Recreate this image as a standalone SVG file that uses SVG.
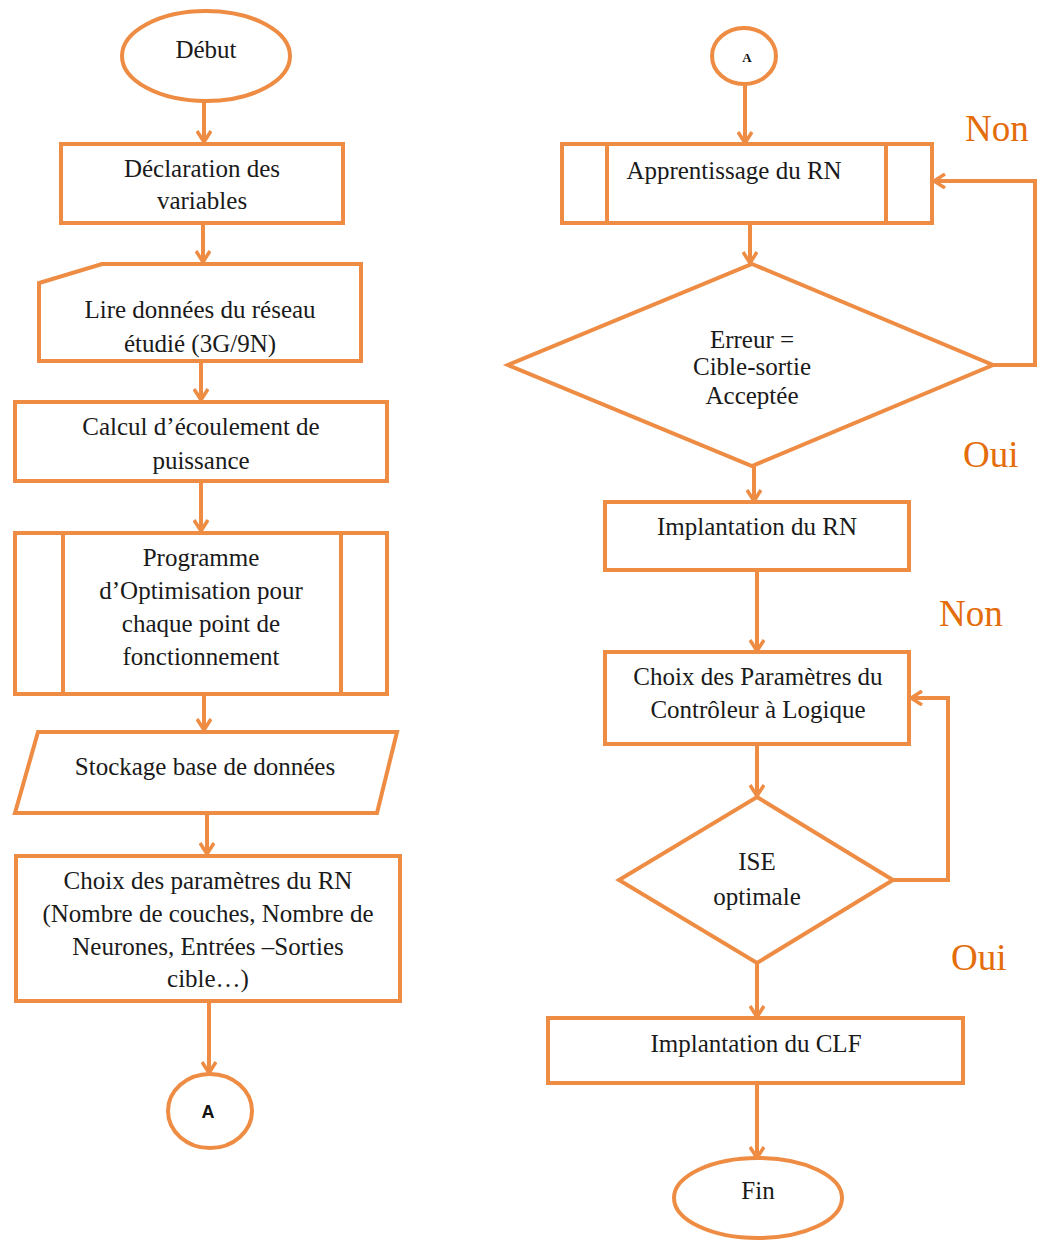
<svg xmlns="http://www.w3.org/2000/svg" width="1038" height="1243" viewBox="0 0 1038 1243">
<defs>
<style>
.s{fill:#fff;stroke:#EE8C44;stroke-width:4;stroke-linejoin:miter}
.c{fill:none;stroke:#EE8C44;stroke-width:4}
.t{font-family:"Liberation Serif","Times New Roman",serif;font-size:25px;fill:#1a1a1a;text-anchor:middle}
.l{font-family:"Liberation Serif","Times New Roman",serif;font-size:37px;fill:#E46C0A}
</style>
<marker id="ah" viewBox="0 0 16 16" refX="14" refY="8" markerWidth="16" markerHeight="16" markerUnits="userSpaceOnUse" orient="auto">
<path d="M3,1 L14,8 L3,15" fill="none" stroke="#EE8C44" stroke-width="3.5"/>
</marker>
</defs>
<rect width="1038" height="1243" fill="#fff"/>
<g id="connectors">
<line class="c" x1="204" y1="101" x2="204" y2="142" marker-end="url(#ah)"/>
<line class="c" x1="203" y1="224" x2="203" y2="262" marker-end="url(#ah)"/>
<line class="c" x1="201" y1="362" x2="201" y2="400" marker-end="url(#ah)"/>
<line class="c" x1="201" y1="482" x2="201" y2="531" marker-end="url(#ah)"/>
<line class="c" x1="204" y1="695" x2="204" y2="730" marker-end="url(#ah)"/>
<line class="c" x1="207" y1="814" x2="207" y2="854" marker-end="url(#ah)"/>
<line class="c" x1="209" y1="1002" x2="209" y2="1073" marker-end="url(#ah)"/>
<line class="c" x1="745" y1="84" x2="745" y2="143" marker-end="url(#ah)"/>
<line class="c" x1="750" y1="224" x2="750" y2="263" marker-end="url(#ah)"/>
<polyline class="c" points="993,365 1035,365 1035,181 934,181" marker-end="url(#ah)"/>
<line class="c" x1="754" y1="466" x2="754" y2="501" marker-end="url(#ah)"/>
<line class="c" x1="757" y1="570" x2="757" y2="651" marker-end="url(#ah)"/>
<line class="c" x1="757" y1="745" x2="757" y2="796" marker-end="url(#ah)"/>
<polyline class="c" points="893,880 948,880 948,698 911,698" marker-end="url(#ah)"/>
<line class="c" x1="757" y1="963" x2="757" y2="1017" marker-end="url(#ah)"/>
<line class="c" x1="757" y1="1084" x2="757" y2="1158" marker-end="url(#ah)"/>
</g>
<g id="debut">
<ellipse class="s" cx="206" cy="56" rx="84" ry="45"/>
<text class="t" x="206" y="58">Début</text>
</g>
<g id="declaration">
<rect class="s" x="61" y="144" width="282" height="79"/>
<text class="t" x="202" y="177">Déclaration des</text>
<text class="t" x="202" y="209">variables</text>
</g>
<g id="lire">
<polygon class="s" points="102,264 361,264 361,361 39,361 39,283"/>
<text class="t" x="200" y="318">Lire données du réseau</text>
<text class="t" x="200" y="352">étudié (3G/9N)</text>
</g>
<g id="calcul">
<rect class="s" x="15" y="402" width="372" height="79"/>
<text class="t" x="201" y="435">Calcul d’écoulement de</text>
<text class="t" x="201" y="469">puissance</text>
</g>
<g id="programme">
<rect class="s" x="15" y="533" width="372" height="161"/>
<line class="c" x1="63" y1="533" x2="63" y2="694"/>
<line class="c" x1="341" y1="533" x2="341" y2="694"/>
<text class="t" x="201" y="566">Programme</text>
<text class="t" x="201" y="599">d’Optimisation pour</text>
<text class="t" x="201" y="632">chaque point de</text>
<text class="t" x="201" y="665">fonctionnement</text>
</g>
<g id="stockage">
<polygon class="s" points="38,732 397,732 377,813 15,813"/>
<text class="t" x="205" y="775">Stockage base de données</text>
</g>
<g id="choix-rn">
<rect class="s" x="16" y="856" width="384" height="145"/>
<text class="t" x="208" y="889">Choix des paramètres du RN</text>
<text class="t" x="208" y="922">(Nombre de couches, Nombre de</text>
<text class="t" x="208" y="955">Neurones, Entrées –Sorties</text>
<text class="t" x="208" y="987">cible…)</text>
</g>
<g id="a-out">
<ellipse class="s" cx="210" cy="1111" rx="42" ry="37"/>
<text x="208" y="1118" style="font-family:'Liberation Sans',Arial,sans-serif;font-size:18px;font-weight:bold;fill:#111;text-anchor:middle">A</text>
</g>
<g id="a-in">
<ellipse class="s" cx="744" cy="56" rx="32" ry="28"/>
<text x="747" y="62" style="font-family:'Liberation Serif','Times New Roman',serif;font-size:13px;font-weight:bold;fill:#111;text-anchor:middle">A</text>
</g>
<g id="apprentissage">
<rect class="s" x="562" y="144" width="370" height="79"/>
<line class="c" x1="607" y1="144" x2="607" y2="223"/>
<line class="c" x1="886" y1="144" x2="886" y2="223"/>
<text class="t" x="734" y="179">Apprentissage du RN</text>
</g>
<g id="erreur">
<polygon class="s" points="752,264 993,365 752,466 508,365"/>
<text class="t" x="752" y="348">Erreur =</text>
<text class="t" x="752" y="375">Cible-sortie</text>
<text class="t" x="752" y="404">Acceptée</text>
</g>
<g id="implantation-rn">
<rect class="s" x="605" y="502" width="304" height="68"/>
<text class="t" x="757" y="535">Implantation du RN</text>
</g>
<g id="choix-clf">
<rect class="s" x="605" y="652" width="304" height="92"/>
<text class="t" x="758" y="685">Choix des Paramètres du</text>
<text class="t" x="758" y="718">Contrôleur à Logique</text>
</g>
<g id="ise">
<polygon class="s" points="757,797 893,880 757,963 619,880"/>
<text class="t" x="757" y="870">ISE</text>
<text class="t" x="757" y="905">optimale</text>
</g>
<g id="implantation-clf">
<rect class="s" x="548" y="1018" width="415" height="65"/>
<text class="t" x="756" y="1052">Implantation du CLF</text>
</g>
<g id="fin">
<ellipse class="s" cx="758" cy="1198" rx="84" ry="40"/>
<text class="t" x="758" y="1199">Fin</text>
</g>
<g id="labels">
<text class="l" x="965" y="141">Non</text>
<text class="l" x="963" y="467">Oui</text>
<text class="l" x="939" y="626">Non</text>
<text class="l" x="951" y="970">Oui</text>
</g>
</svg>
